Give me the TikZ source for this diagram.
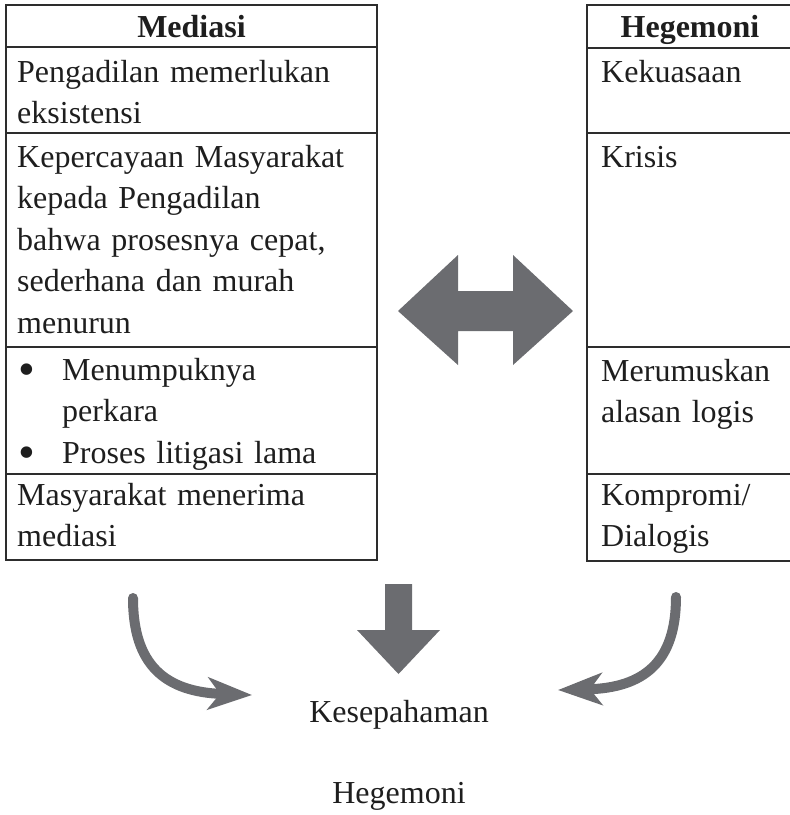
\documentclass[tikz,border=0pt]{standalone}
\usepackage{fontspec}
\setmainfont[WordSpace=0.8]{Liberation Serif}
\usetikzlibrary{arrows.meta}
\definecolor{arrowgray}{RGB}{107,108,112}
\definecolor{rulecol}{RGB}{45,45,45}
\definecolor{textcol}{RGB}{30,30,30}
\newcommand{\bigbullet}{\makebox[45pt][l]{\hspace{1pt}\raisebox{-5pt}{\scalebox{1.5}{\textbullet}}}}
\begin{document}
\begin{tikzpicture}[x=1pt,y=-1pt,
  bodyfont/.style={font=\fontsize{32}{41.5}\selectfont, text=textcol},
  cell/.style={bodyfont, anchor=base west, inner sep=0pt, align=left, text width=#1},
  cell/.default=350,
  head/.style={bodyfont, font=\fontsize{32}{41.5}\selectfont\bfseries, anchor=base, inner sep=0pt},
  plain/.style={bodyfont, anchor=base, inner sep=0pt},
  outerline/.style={draw=rulecol, line width=2pt},
  innerline/.style={draw=rulecol, line width=1.2pt},
  blockarrow/.style={fill=arrowgray},
  curvedarrow/.style={draw=arrowgray, line width=10pt, line cap=round,
     -{Stealth[length=44pt, width=32pt, inset=12pt]}}
]
\useasboundingbox (0,0) rectangle (790,815);

% ---- left table ----
\draw[outerline] (6,5) rectangle (377,560);
\draw[innerline] (6,47) -- (377,47);
\draw[innerline] (6,133) -- (377,133);
\draw[innerline] (6,347) -- (377,347);
\draw[innerline] (6,474) -- (377,474);

\node[head] (mhead) at (191.5,37) {Mediasi};
\node[cell] (m1) at (17,82) {Pengadilan memerlukan\\eksistensi};
\node[cell] (m2) at (17,167) {Kepercayaan Masyarakat\\kepada Pengadilan\\bahwa prosesnya cepat,\\sederhana dan murah\\menurun};
\node[cell] (m3) at (17,380) {\bigbullet Menumpuknya\\\hspace*{45pt}perkara\\\bigbullet Proses litigasi lama};
\node[cell] (m4) at (17,505) {Masyarakat menerima\\mediasi};

% ---- right table ----
\draw[outerline] (587,5) rectangle (794,561);
\draw[innerline] (587,48) -- (794,48);
\draw[innerline] (587,133) -- (794,133);
\draw[innerline] (587,347) -- (794,347);
\draw[innerline] (587,474) -- (794,474);

\node[head] (hhead) at (690,37) {Hegemoni};
\node[cell=190] (h1) at (601,82) {Kekuasaan};
\node[cell=190] (h2) at (601,167) {Krisis};
\node[cell=190] (h3) at (601,381) {Merumuskan\\alasan logis};
\node[cell=190] (h4) at (601,505) {Kompromi/\\Dialogis};

% ---- double arrow ----
\fill[blockarrow] (398,311) -- (458,255) -- (458,291) -- (513,291) -- (513,255)
  -- (573,311) -- (513,365) -- (513,331) -- (458,331) -- (458,365) -- cycle;

% ---- down arrow ----
\fill[blockarrow] (385,584) -- (412,584) -- (412,630) -- (440,630) -- (398.5,674)
  -- (357,630) -- (385,630) -- cycle;

% ---- bottom texts ----
\node[plain] (kes) at (399,722) {Kesepahaman};
\node[plain] (heg) at (399,803) {Hegemoni};

% ---- curved arrows ----
\coordinate (lstart) at (133,598);
\coordinate (lend) at (252,695);
\coordinate (rstart) at (676,597);
\coordinate (rend) at (558,690);
\draw[curvedarrow] (lstart) .. controls (133,665) and (165,692) .. (lend);
\draw[curvedarrow] (rstart) .. controls (676,662) and (644,688) .. (rend);
\end{tikzpicture}
\end{document}
